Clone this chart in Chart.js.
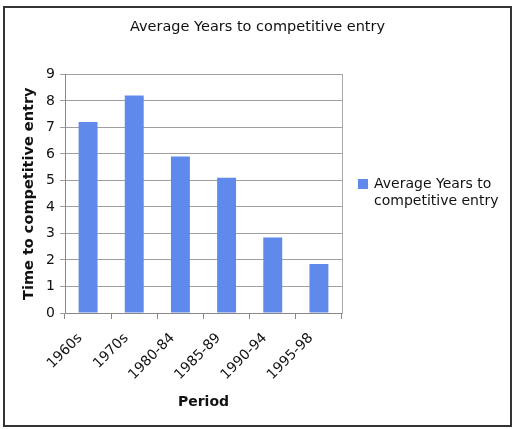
<!DOCTYPE html>
<html><head><meta charset="utf-8">
<script src="https://cdn.jsdelivr.net/npm/chart.js@4"></script>
<style>
html,body{margin:0;padding:0;background:#fff;width:514px;height:429px;overflow:hidden}
#wrap{position:absolute;left:3px;top:6px;width:505px;height:417px;border:2px solid #333;background:#fff}
canvas{display:block}
#legend{position:absolute;left:353px;top:167px;font-family:'DejaVu Sans',Verdana,sans-serif;font-size:14px;line-height:17px;color:#111}
#legend .sw{position:absolute;left:0;top:4px;width:10px;height:10px}
#legend .tx{position:absolute;left:16px;top:0;white-space:nowrap}
</style></head>
<body>
<div id="wrap"><canvas id="c" width="505" height="417"></canvas><div id="legend"></div></div>
<script>
const categories = ['1960s','1970s','1980-84','1985-89','1990-94','1995-98'];
const seriesName = ['Average Years to','competitive entry'];
const avgYears = [7.2, 8.2, 5.9, 5.1, 2.85, 1.85];
const yTicks = [0,1,2,3,4,5,6,7,8,9];

const FONT = "'DejaVu Sans', Verdana, sans-serif";
const barColor = '#6089ec';

const chart = new Chart(document.getElementById('c'), {
  type: 'bar',
  data: {
    labels: categories,
    datasets: [{
      label: seriesName.join(' '),
      data: avgYears,
      backgroundColor: barColor,
      borderWidth: 0,
      categoryPercentage: 1,
      barPercentage: 0.41
    }]
  },
  options: {
    responsive: false,
    animation: false,
    layout: { padding: { left: 0, right: 0, top: 0, bottom: 10 } },
    plugins: {
      title: {
        display: true,
        text: 'Average Years to competitive entry',
        color: '#111',
        font: { family: FONT, size: 14.5, weight: 'normal' },
        padding: { top: 11, bottom: 38 }
      },
      legend: { display: false },
      tooltip: { enabled: false }
    },
    scales: {
      x: {
        offset: true,
        grid: { display: true, drawOnChartArea: false, color: '#888', tickLength: 6, offset: true },
        border: { display: true, color: '#888' },
        ticks: { color: '#111', font: { family: FONT, size: 14 }, maxRotation: 45, minRotation: 45, padding: 11, labelOffset: -8 },
        title: { display: true, text: 'Period', color: '#111', font: { family: FONT, size: 14, weight: 'bold' }, padding: { top: 2 } },
        afterFit: (s) => { s.height = 102; }
      },
      y: {
        min: 0, max: 9,
        afterBuildTicks: (s) => { s.ticks = yTicks.map(v => ({ value: v })); },
        grid: { color: '#a0a0a0', tickLength: 5 },
        border: { display: true, color: '#888' },
        ticks: { color: '#111', font: { family: FONT, size: 14 }, padding: 5 },
        title: { display: true, text: 'Time to competitive entry', color: '#111', font: { family: FONT, size: 14.5, weight: 'bold' }, padding: { top: 16, bottom: 0 } },
        afterFit: (s) => { s.width = 60; }
      },
      y2: {
        position: 'right',
        min: 0, max: 9,
        grid: { display: false },
        ticks: { display: false },
        border: { display: true, color: '#aaa' },
        afterFit: (s) => { s.width = 168; }
      }
    }
  }
});

// HTML legend built from the dataset
const lg = document.getElementById('legend');
const ds = chart.data.datasets[0];
const sw = document.createElement('div'); sw.className = 'sw'; sw.style.background = ds.backgroundColor;
const tx = document.createElement('div'); tx.className = 'tx'; tx.innerHTML = seriesName.join('<br>');
lg.appendChild(sw); lg.appendChild(tx);
</script>
</body></html>
